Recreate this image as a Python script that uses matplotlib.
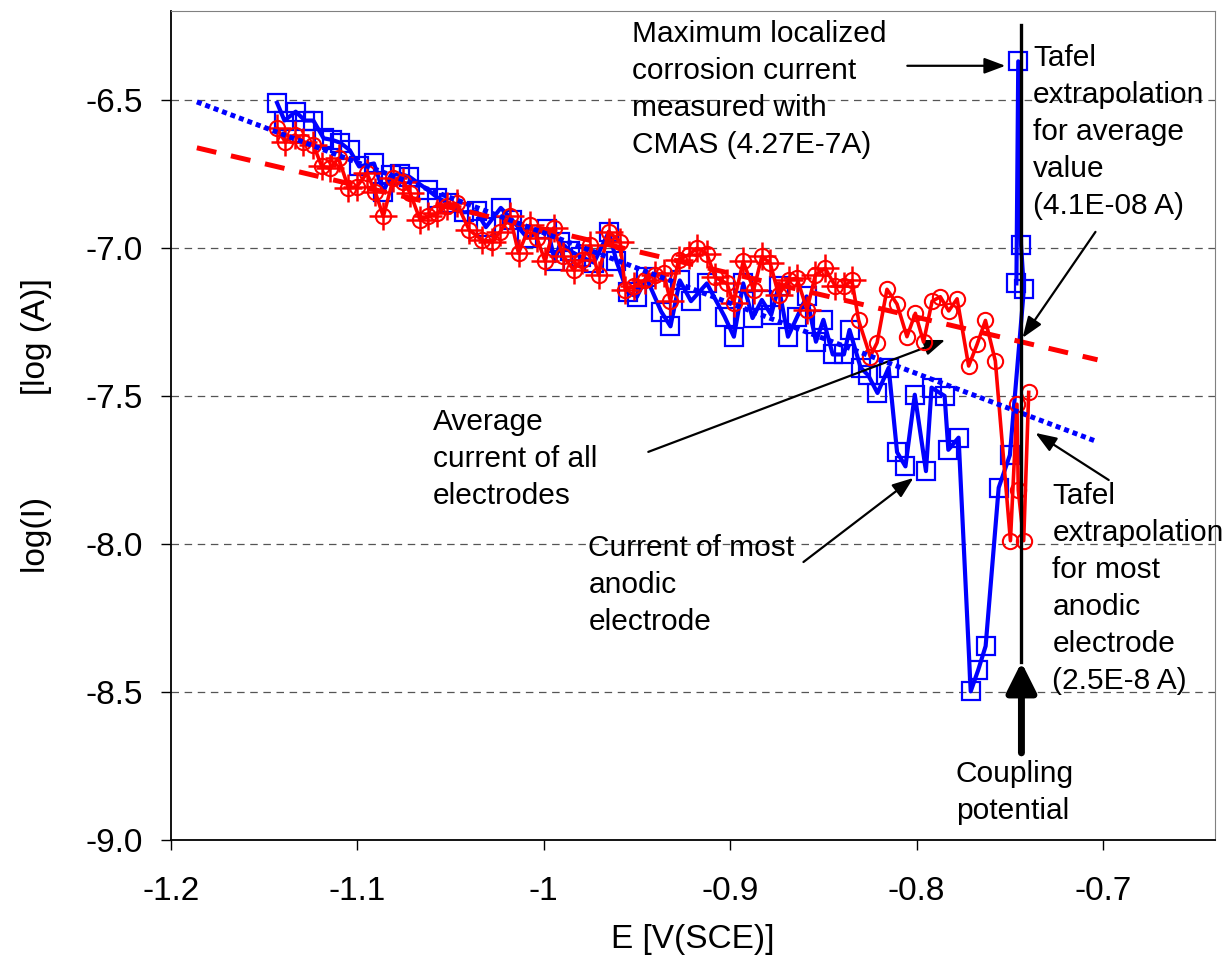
import matplotlib.pyplot as plt

plt.rcParams['font.family'] = ['Liberation Sans', 'DejaVu Sans']

# most anodic electrode (blue squares)
blue_E = [-1.143, -1.139, -1.133, -1.128, -1.1235, -1.118, -1.1136, -1.109, -1.104, -1.099,
          -1.091, -1.086, -1.082, -1.077, -1.072, -1.062, -1.057, -1.051, -1.043, -1.036,
          -1.031, -1.023, -1.017, -1.009, -0.998, -0.994, -0.991, -0.986, -0.980, -0.973,
          -0.965, -0.961, -0.955, -0.950, -0.945, -0.937, -0.932, -0.927, -0.921, -0.9125,
          -0.903, -0.898, -0.893, -0.888, -0.883, -0.878, -0.874, -0.869, -0.864, -0.859,
          -0.854, -0.850, -0.845, -0.839, -0.836, -0.830, -0.826, -0.821, -0.815, -0.8105,
          -0.806, -0.801, -0.795, -0.792, -0.785, -0.783, -0.7775, -0.771, -0.767, -0.763,
          -0.756, -0.750, -0.7425, -0.744, -0.7455, -0.7465]
blue_I = [-6.51, -6.57, -6.54, -6.57, -6.57, -6.63, -6.635, -6.645, -6.67, -6.725,
          -6.715, -6.81, -6.755, -6.75, -6.76, -6.805, -6.83, -6.85, -6.88, -6.877,
          -6.93, -6.865, -6.905, -6.965, -6.935, -7.045, -6.98, -7.01, -7.03, -7.05,
          -6.945, -7.045, -7.15, -7.165, -7.10, -7.215, -7.265, -7.11, -7.18, -7.12,
          -7.232, -7.30, -7.12, -7.237, -7.176, -7.226, -7.13, -7.30, -7.232, -7.164,
          -7.317, -7.243, -7.36, -7.36, -7.277, -7.405, -7.43, -7.49, -7.405, -7.69,
          -7.738, -7.496, -7.754, -7.472, -7.50, -7.682, -7.641, -8.498, -8.426, -8.345,
          -7.81, -7.70, -7.14, -6.99, -6.37, -7.12]

# average current of all electrodes (red circles)
red_E = [-1.143, -1.1387, -1.1333, -1.1289, -1.1235, -1.119, -1.1145, -1.110, -1.1047, -1.1002,
         -1.0948, -1.0904, -1.086, -1.0806, -1.0752, -1.0716, -1.0663, -1.0618, -1.0573, -1.052,
         -1.0466, -1.040, -1.0332, -1.0278, -1.0233, -1.018, -1.0135, -1.0072, -1.0036, -0.9992,
         -0.9947, -0.9894, -0.984, -0.9795, -0.975, -0.9706, -0.9652, -0.959, -0.9563, -0.9518,
         -0.9455, -0.9402, -0.9357, -0.932, -0.9277, -0.9223, -0.9178, -0.9125, -0.908, -0.9017,
         -0.8982, -0.893, -0.8874, -0.883, -0.8785, -0.874, -0.8687, -0.8642, -0.8588, -0.8543,
         -0.849, -0.8436, -0.8392, -0.8347, -0.8311, -0.8249, -0.8212, -0.8159, -0.8105, -0.8052,
         -0.8007, -0.7963, -0.7917, -0.7873, -0.7828, -0.7783, -0.7721, -0.7676, -0.7631, -0.7578,
         -0.7497, -0.7462, -0.7455, -0.7426, -0.7399]
red_I = [-6.596, -6.641, -6.618, -6.641, -6.652, -6.725, -6.731, -6.697, -6.798, -6.793,
         -6.748, -6.81, -6.894, -6.765, -6.776, -6.815, -6.905, -6.894, -6.883, -6.858,
         -6.85, -6.939, -6.973, -6.979, -6.945, -6.894, -7.018, -6.922, -6.967, -7.046,
         -6.933, -7.029, -7.074, -7.04, -6.99, -7.091, -6.945, -6.979, -7.142, -7.13,
         -7.108, -7.091, -7.086, -7.18, -7.04, -7.024, -7.001, -7.02, -7.10, -7.12,
         -7.187, -7.046, -7.142, -7.029, -7.052, -7.159, -7.108, -7.102, -7.209, -7.091,
         -7.069, -7.13, -7.13, -7.11, -7.245, -7.367, -7.32, -7.14, -7.19, -7.30,
         -7.221, -7.318, -7.18, -7.165, -7.213, -7.172, -7.399, -7.326, -7.245, -7.382,
         -7.989, -7.528, -7.819, -7.989, -7.488]
n_cross = 64  # points that also carry the "+" marker

# Tafel extrapolation lines
tafel_E = [-1.186, -0.703]
tafel_avg = [-6.662, -7.378]
tafel_anodic = [-6.507, -7.655]

E_couple = -0.7438

fig = plt.figure(figsize=(12.31, 9.66), dpi=100)
ax = fig.add_axes([0.1387, 0.1304, 0.8483, 0.8582])

for y in [-8.5, -8.0, -7.5, -7.0, -6.5]:
    ax.axhline(y, color='#555555', lw=0.9, dashes=(6, 4.5), zorder=0)

ax.plot(blue_E, blue_I, color='#0000ff', lw=3, marker='s', ms=13, mfc='none',
        mec='#0000ff', mew=1.6, zorder=3)
ax.plot(red_E, red_I, color='#ff0000', lw=2.6, marker='o', ms=11, mfc='none',
        mec='#ff0000', mew=1.5, zorder=4)
ax.plot(red_E[:n_cross], red_I[:n_cross], ls='none', marker='+', ms=20, mec='#ff0000',
        mew=1.8, zorder=4)

ax.plot(tafel_E, tafel_avg, color='#ff0000', lw=3.6, dashes=(4, 3), zorder=5)
ax.plot(tafel_E, tafel_anodic, color='#0000ff', lw=3.6, dashes=(1, 0.8), zorder=5)

# coupling potential
ax.plot([E_couple, E_couple], [-6.247, -8.40], color='black', lw=2.4, zorder=6)
ax.annotate('', xy=(E_couple, -8.39), xytext=(E_couple, -8.715),
            arrowprops=dict(arrowstyle='-|>,head_width=0.45,head_length=0.9',
                            color='black', lw=5, mutation_scale=20), zorder=6)

ax.set_xlim(-1.2, -0.64)
ax.set_ylim(-9.0, -6.2)
ax.set_xticks([-1.2, -1.1, -1.0, -0.9, -0.8, -0.7])
ax.set_xticklabels(['-1.2', '-1.1', '-1', '-0.9', '-0.8', '-0.7'])
ax.set_yticks([-9.0, -8.5, -8.0, -7.5, -7.0, -6.5])
ax.set_yticklabels(['-9.0', '-8.5', '-8.0', '-7.5', '-7.0', '-6.5'])
ax.tick_params(labelsize=24, direction='out', length=7, width=1)
ax.tick_params(axis='x', pad=19)
ax.tick_params(axis='y', pad=13)
for s in ['top', 'right']:
    ax.spines[s].set_color('#808080')
for s in ['left', 'bottom']:
    ax.spines[s].set_linewidth(1.3)

ax.set_xlabel('E [V(SCE)]', fontsize=24, labelpad=12)
ax.set_ylabel('log(I)' + ' ' * 11 + '[log (A)]', fontsize=24, labelpad=24)

tk = dict(fontsize=21.5, linespacing=1.41, va='top', ha='left', zorder=7)
arr = dict(arrowstyle='-|>,head_width=0.3,head_length=0.8', color='black', lw=1.6,
           mutation_scale=16, shrinkA=0, shrinkB=0)

ax.text(-0.9525, -6.23, 'Maximum localized\ncorrosion current\nmeasured with\nCMAS (4.27E-7A)', **tk)
ax.annotate('', xy=(-0.7524, -6.385), xytext=(-0.805, -6.385), arrowprops=arr)

ax.text(-0.7375, -6.31, 'Tafel\nextrapolation\nfor average\nvalue\n(4.1E-08 A)', **tk)
ax.annotate('', xy=(-0.7432, -7.304), xytext=(-0.7041, -6.946), arrowprops=arr)

ax.text(-1.0593, -7.54, 'Average\ncurrent of all\nelectrodes', **tk)
ax.annotate('', xy=(-0.7847, -7.311), xytext=(-0.9439, -7.689), arrowprops=arr)

ax.text(-0.9761, -7.965, 'Current of most\nanodic\nelectrode', **tk)
ax.annotate('', xy=(-0.8017, -7.777), xytext=(-0.8607, -8.061), arrowprops=arr)

ax.text(-0.7272, -7.79, 'Tafel\nextrapolation\nfor most\nanodic\nelectrode\n(2.5E-8 A)', **tk)
ax.annotate('', xy=(-0.7363, -7.625), xytext=(-0.697, -7.784), arrowprops=arr)

ax.text(-0.7790, -8.73, 'Coupling\npotential', **tk)

fig.savefig('out.png', dpi=100)
